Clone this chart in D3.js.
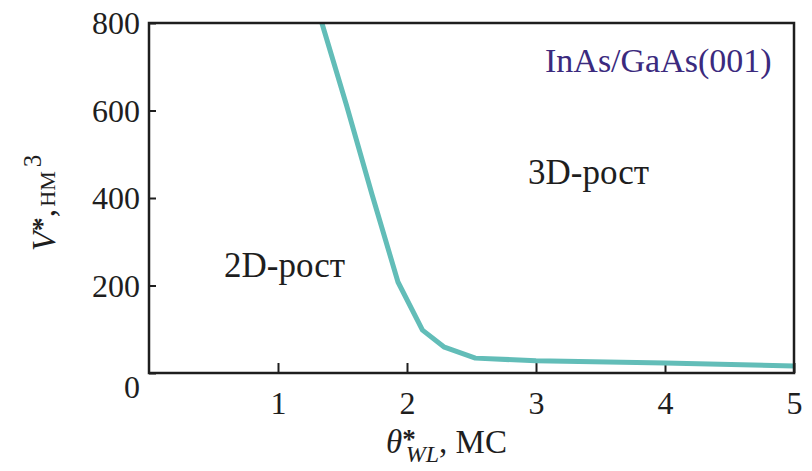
<!DOCTYPE html>
<html>
<head>
<meta charset="utf-8">
<script src="https://cdn.jsdelivr.net/npm/d3@7"></script>
<style>
  body { margin: 0; background: #fff; }
  text { font-family: "Liberation Serif", "DejaVu Serif", serif; fill: #1e1e1e; }
</style>
</head>
<body>
<div id="chart-area"></div>
<script>
// data (theta_WL*, ML  ->  V*, nm^3)
var theta = [1.34, 1.53, 1.73, 1.93, 2.12, 2.29, 2.53, 3.0, 4.0, 5.0];
var volume = [800, 613, 407, 208, 98, 59, 34, 28, 23, 16];

var xTicks = [1, 2, 3, 4, 5];
var yTicks = [0, 200, 400, 600, 800];

var margin = {top: 23, right: 18, bottom: 98, left: 149};
var width = 812 - margin.left - margin.right;
var height = 471 - margin.top - margin.bottom;

var svg = d3.select('#chart-area')
    .append('svg')
        .attr('width', 812)
        .attr('height', 471);

var g = svg.append('g')
    .attr('transform', 'translate(' + margin.left + ', ' + margin.top + ')');

var x = d3.scaleLinear().domain([0, 5]).range([0, width]);
var y = d3.scaleLinear().domain([0, 800]).range([height, 0]);

// y axis, ticks pointing inward
var leftAxis = d3.axisLeft(y)
    .tickValues(yTicks)
    .tickFormat(d3.format('d'))
    .tickSizeInner(-7)
    .tickSizeOuter(0)
    .tickPadding(9);

var ya = g.append('g')
    .attr('class', 'left axis')
    .call(leftAxis);
ya.select('.domain').remove();
ya.selectAll('line').attr('stroke', '#1e1e1e').attr('stroke-width', 2);
ya.selectAll('text')
    .attr('font-size', '32px')
    .attr('font-family', '"Liberation Serif", serif')
    .attr('fill', '#1e1e1e')
    .attr('dy', (d) => { return d === 0 ? '0.78em' : '0.34em'; });

// x axis
var bottomAxis = d3.axisBottom(x)
    .tickValues(xTicks)
    .tickFormat(d3.format('d'))
    .tickSizeInner(-10)
    .tickSizeOuter(0);

var xa = g.append('g')
    .attr('class', 'bottom axis')
    .attr('transform', 'translate(0, ' + height + ')')
    .call(bottomAxis);
xa.select('.domain').remove();
xa.selectAll('line').attr('stroke', '#1e1e1e').attr('stroke-width', 2);
xa.selectAll('text')
    .attr('font-size', '32px')
    .attr('font-family', '"Liberation Serif", serif')
    .attr('fill', '#1e1e1e')
    .attr('y', 41)
    .attr('dy', 0);

// curve
var line = d3.line()
    .x((d, i) => { return x(theta[i]); })
    .y((d) => { return y(d); });

g.append('path')
    .datum(volume)
    .attr('fill', 'none')
    .attr('stroke', '#62bdb8')
    .attr('stroke-width', 5)
    .attr('stroke-linejoin', 'round')
    .attr('d', line);

// frame
g.append('rect')
    .attr('x', 0)
    .attr('y', 0)
    .attr('width', width)
    .attr('height', height)
    .attr('fill', 'none')
    .attr('stroke', '#1e1e1e')
    .attr('stroke-width', 2.5);

// annotations
g.append('text')
    .attr('x', 545 - margin.left)
    .attr('y', 72 - margin.top)
    .attr('font-size', '34px')
    .style('fill', '#3b2a7e')
    .text('InAs/GaAs(001)');

g.append('text')
    .attr('x', 528 - margin.left)
    .attr('y', 184 - margin.top)
    .attr('font-size', '35px')
    .text('3D-рост');

g.append('text')
    .attr('x', 224 - margin.left)
    .attr('y', 277 - margin.top)
    .attr('font-size', '35px')
    .text('2D-рост');

// axis titles
var xl = svg.append('text')
    .attr('x', 386)
    .attr('y', 453)
    .attr('font-size', '33px');
xl.append('tspan').attr('font-style', 'italic').text('θ');
xl.append('tspan').attr('font-size', '27px').attr('font-weight', 'bold').attr('dy', -5).text('*');
xl.append('tspan').attr('font-style', 'italic').attr('font-size', '24px').attr('dx', -10).attr('dy', 14).text('WL');
xl.append('tspan').attr('dy', -9).text(', МС');

var yl = svg.append('text')
    .attr('transform', 'translate(55, 203) rotate(-90)')
    .attr('text-anchor', 'middle')
    .attr('font-size', '33px');
yl.append('tspan').attr('font-style', 'italic').text('V');
yl.append('tspan').attr('font-size', '28px').attr('font-weight', 'bold').attr('dy', -4).text('*');
yl.append('tspan').attr('dy', 4).text(', ');
yl.append('tspan').attr('font-size', '22px').attr('dx', -6).text('НМ');
yl.append('tspan').attr('font-size', '25px').attr('dx', 4).attr('dy', -14).text('3');
</script>
</body>
</html>
